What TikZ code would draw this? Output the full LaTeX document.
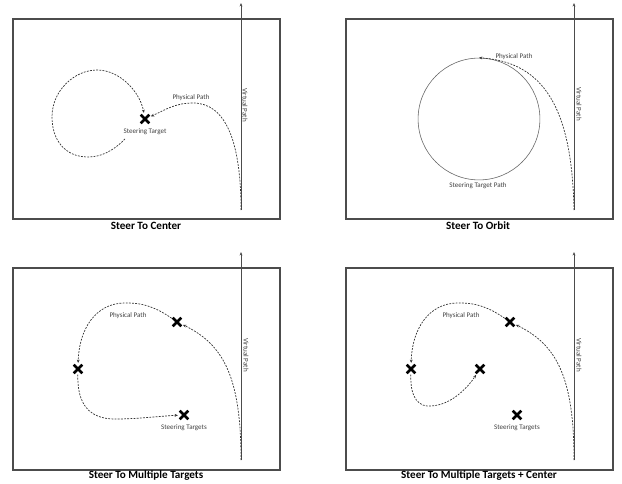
\documentclass[tikz,border=0pt]{standalone}
\usepackage{fontspec}
\setmainfont{Carlito}
\usetikzlibrary{arrows.meta,shapes.misc}
\begin{document}
\begin{tikzpicture}[x=0.03cm, y=-0.03cm,
    frame/.style={draw=black!70, line width=0.9pt},
    vpath/.style={draw=black!70, line width=0.7pt, -{Stealth[length=3pt,width=2.4pt]}},
    ppath/.style={draw=black!80, line width=0.6pt, dash pattern=on 1.6pt off 1.1pt,
        -{Stealth[length=2.8pt,width=2.4pt]}, shorten >=1.5pt},
    target/.style={cross out, draw=black, line width=2.2pt, minimum size=5.2pt, inner sep=0pt},
    lbl/.style={font=\fontsize{6}{7}\selectfont, text=black!75, inner sep=0pt},
    caption/.style={font=\fontsize{9.5}{11}\selectfont\bfseries, inner sep=0pt}]
    \useasboundingbox (0,0) rectangle (622,484);
    % Steer To Center
    \draw[frame] (13,19) rectangle (280,219);
    \coordinate (v1s) at (241,210);
    \coordinate (v1e) at (241,3);
    \draw[vpath] (v1s) -- (v1e);
    \node[lbl, rotate=-90] at (245,105) {Virtual Path};
    \node[target] (t1) at (145,119) {};
    \node[lbl] at (145,132) {Steering Target};
    \node[lbl] at (191,98) {Physical Path};
    \coordinate (l1) at (125,139);
    \draw[ppath] (v1s) .. controls (241,140) and (225,103) .. (193,103)
        .. controls (175,103) and (165,110) .. (t1);
    \draw[ppath] (l1) .. controls (112,152) and (100,157) .. (88,157)
        .. controls (65,157) and (52,140) .. (52,117)
        .. controls (52,90) and (75,70) .. (97,70)
        .. controls (120,70) and (140,92) .. (t1);
    \node[caption] at (146,226) {Steer To Center};
    % Steer To Orbit
    \draw[frame] (346,19) rectangle (613,219);
    \coordinate (v2s) at (574,210);
    \coordinate (v2e) at (574,3);
    \draw[vpath] (v2s) -- (v2e);
    \node[lbl, rotate=-90] at (579,104) {Virtual Path};
    \node[circle, draw=black!60, line width=0.5pt, minimum size=104pt, inner sep=0pt] (orbit) at (479,119) {};
    \node[lbl] at (478,186) {Steering Target Path};
    \node[lbl] at (514,57) {Physical Path};
    \draw[ppath, shorten >=0pt] (v2s) .. controls (572,110) and (545,62) .. (orbit.north);
    \node[caption] at (478,226) {Steer To Orbit};
    % Steer To Multiple Targets
    \draw[frame] (13,268) rectangle (280,470);
    \coordinate (v3s) at (241,460);
    \coordinate (v3e) at (241,252);
    \draw[vpath] (v3s) -- (v3e);
    \node[lbl, rotate=-90] at (246,355) {Virtual Path};
    \node[target] (a1) at (177,322) {};
    \node[target] (a2) at (78,369) {};
    \node[target] (a3) at (184,415) {};
    \node[lbl] at (128,316) {Physical Path};
    \node[lbl] at (184,428) {Steering Targets};
    \draw[ppath] (v3s) .. controls (241,380) and (225,345) .. (a1);
    \draw[ppath, shorten <=1pt] (a1) .. controls (150,303) and (135,303) .. (125,303)
        .. controls (95,303) and (79,330) .. (a2);
    \draw[ppath, shorten <=1pt] (a2) .. controls (77,405) and (90,419) .. (115,419)
        .. controls (140,419) and (160,416) .. (a3);
    \node[caption] at (146,476) {Steer To Multiple Targets};
    % Steer To Multiple Targets + Center
    \draw[frame] (346,268) rectangle (613,470);
    \coordinate (v4s) at (574,460);
    \coordinate (v4e) at (574,252);
    \draw[vpath] (v4s) -- (v4e);
    \node[lbl, rotate=-90] at (579,355) {Virtual Path};
    \node[target] (b1) at (510,322) {};
    \node[target] (b2) at (411,369) {};
    \node[target] (b3) at (480,369) {};
    \node[target] (b4) at (517,415) {};
    \node[lbl] at (461,316) {Physical Path};
    \node[lbl] at (517,428) {Steering Targets};
    \draw[ppath] (v4s) .. controls (574,380) and (558,345) .. (b1);
    \draw[ppath, shorten <=1pt] (b1) .. controls (483,303) and (468,303) .. (458,303)
        .. controls (428,303) and (412,330) .. (b2);
    \draw[ppath, shorten <=1pt] (b2) .. controls (410,400) and (420,407) .. (431,406)
        .. controls (450,405) and (466,390) .. (b3);
    \node[caption] at (479,476) {Steer To Multiple Targets + Center};
\end{tikzpicture}
\end{document}
